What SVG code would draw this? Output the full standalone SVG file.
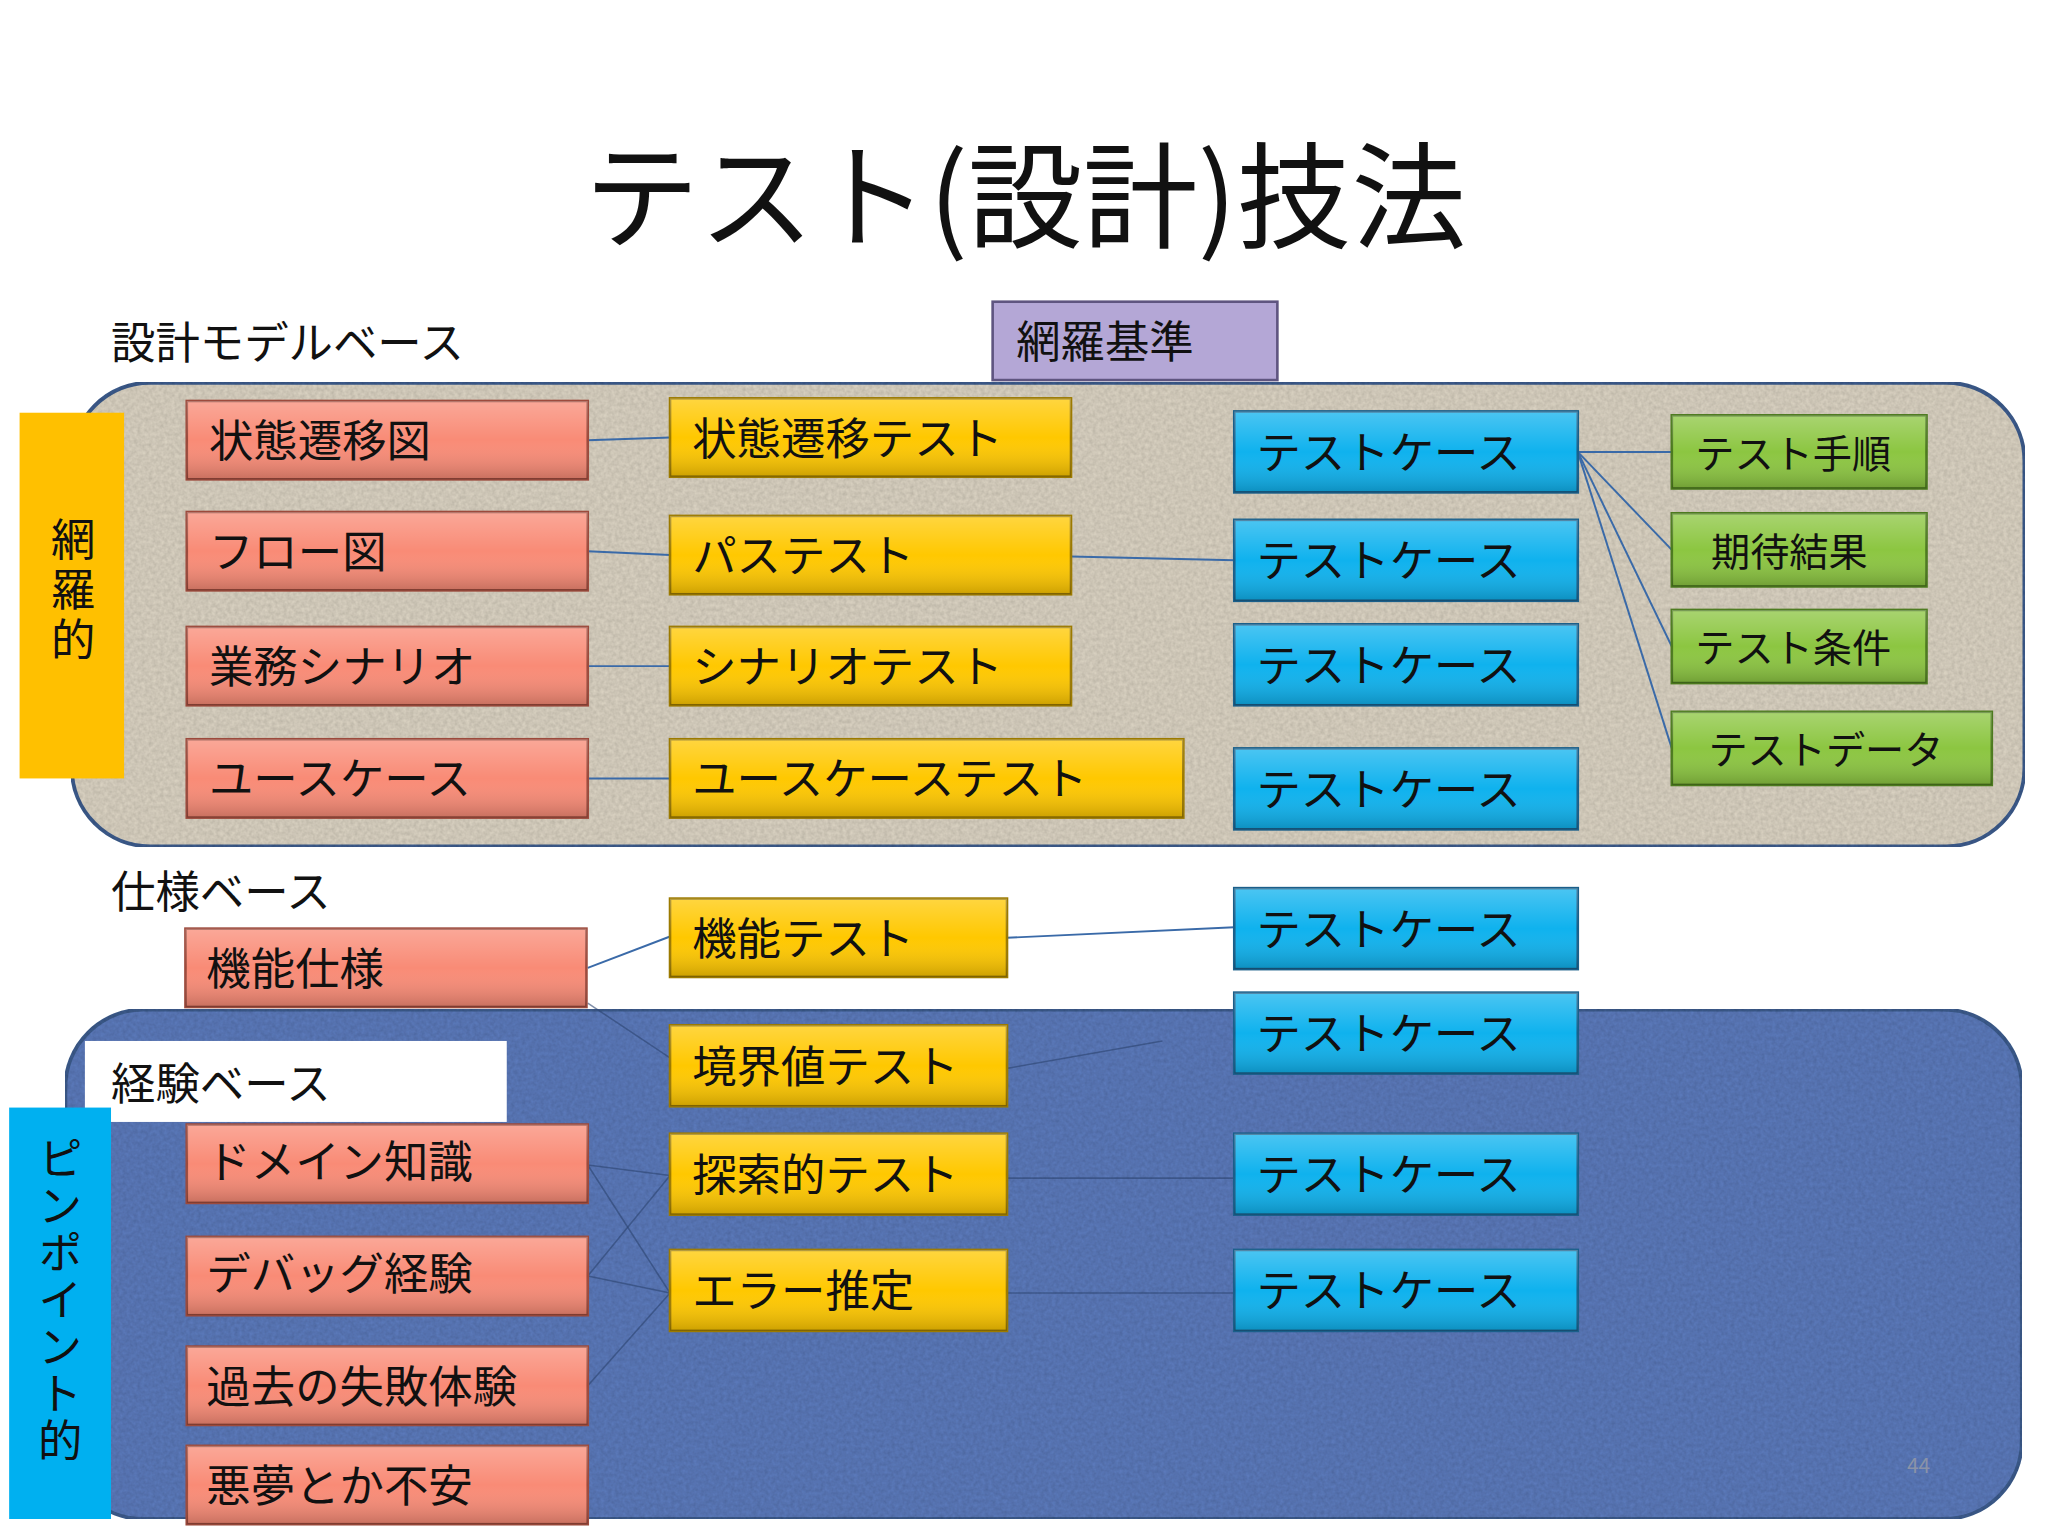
<svg xmlns="http://www.w3.org/2000/svg" width="2048" height="1536" viewBox="0 0 2048 1536">
<style>
text{font-family:"Noto Sans CJK JP","Liberation Sans",sans-serif;fill:#111}
.t{font-size:34px}
.r{fill:#f98b76;stroke:#9c4a3c;stroke-width:2}
.y{fill:#ffc800;stroke:#9c7a00;stroke-width:2}
.b{fill:#0fb2ee;stroke:#1a5f8a;stroke-width:2}
.g{fill:#8cc641;stroke:#4c7a1e;stroke-width:2}
.p{fill:#b4a7d6;stroke:#5f5580;stroke-width:2}
.c line{stroke:#3a6aa8;stroke-width:1.5}
.c .f{stroke:#2c4470;stroke-width:1.2;opacity:.6}
</style>
<defs>
<filter id="tex" x="0" y="0" width="1" height="1">
<feTurbulence type="fractalNoise" baseFrequency="0.35" numOctaves="2" seed="3" result="n"/>
<feColorMatrix in="n" type="matrix" values="0 0 0 0 0  0 0 0 0 0  0 0 0 0 0  0 0 0 0.35 -0.05" result="a"/>
<feComposite in="a" in2="SourceGraphic" operator="in" result="m"/>
<feMerge><feMergeNode in="SourceGraphic"/><feMergeNode in="m"/></feMerge>
</filter>
<linearGradient id="sh" x1="0" y1="0" x2="0" y2="1"><stop offset="0" stop-color="#fff" stop-opacity=".25"/><stop offset=".5" stop-color="#fff" stop-opacity="0"/><stop offset="1" stop-color="#000" stop-opacity=".2"/></linearGradient>
</defs>
<rect width="2048" height="1536" fill="#fff"/>
<g transform="scale(1.3061)">
<text x="785" y="183" font-size="88" text-anchor="middle">テスト(設計)技法</text>
<text x="85" y="275" font-size="34">設計モデルベース</text>
<g id="panel1"><rect x="55" y="293" width="1495" height="355" rx="60" fill="#d9d1c1" stroke="#3d5c8c" stroke-width="3" filter="url(#tex)"/></g>
<text x="85" y="695" font-size="34">仕様ベース</text>
<g id="panel2"><rect x="50" y="773" width="1498" height="390" rx="60" fill="#5b79ba" stroke="#3d5c8c" stroke-width="3" filter="url(#tex)"/></g>
<text x="1460" y="1128" font-size="16" style="fill:#8a93a8">44</text>
<g id="keiken"><rect x="65" y="797" width="323" height="62" fill="#fff"/><text x="85" y="842" font-size="34">経験ベース</text></g>
<g id="moura"><rect x="15" y="316" width="80" height="280" fill="#ffc000"/><text x="56" y="396" font-size="34" style="writing-mode:vertical-rl;letter-spacing:4px">網羅的</text></g>
<g id="pinpoint"><rect x="7" y="848" width="78" height="315" fill="#00b0f0"/><text x="46" y="870" font-size="34" style="writing-mode:vertical-rl;letter-spacing:2px">ピンポイント的</text></g>
<g class="c">
<line x1="450" y1="337" x2="513" y2="335"/><line x1="450" y1="422" x2="513" y2="425"/><line x1="450" y1="510" x2="513" y2="510"/><line x1="450" y1="596" x2="513" y2="596"/>
<line x1="820" y1="426" x2="945" y2="429"/>
<line x1="1208" y1="346" x2="1280" y2="346"/><line x1="1208" y1="346" x2="1280" y2="421"/><line x1="1208" y1="346" x2="1280" y2="495"/><line x1="1208" y1="346" x2="1280" y2="573"/>
<line x1="450" y1="741" x2="513" y2="717"/><line x1="771" y1="718" x2="945" y2="710"/>
<line class="f" x1="450" y1="768" x2="513" y2="810"/>
<line class="f" x1="771" y1="818" x2="890" y2="797"/><line class="f" x1="771" y1="902" x2="945" y2="902"/><line class="f" x1="771" y1="990" x2="945" y2="990"/>
<line class="f" x1="450" y1="892" x2="513" y2="990"/><line class="f" x1="450" y1="977" x2="513" y2="900"/><line class="f" x1="450" y1="1061" x2="513" y2="990"/><line class="f" x1="450" y1="892" x2="513" y2="900"/><line class="f" x1="450" y1="977" x2="513" y2="990"/>
</g>
<g id="moura-kijun"><rect class="p" x="760" y="231" width="218" height="60"/><text class="t" x="778" y="274">網羅基準</text></g>
<g id="r1"><rect class="r" x="143" y="307" width="307" height="60"/><rect x="143" y="307" width="307" height="60" fill="url(#sh)"/><text class="t" x="160" y="350">状態遷移図</text></g>
<g id="r2"><rect class="r" x="143" y="392" width="307" height="60"/><rect x="143" y="392" width="307" height="60" fill="url(#sh)"/><text class="t" x="160" y="435">フロー図</text></g>
<g id="r3"><rect class="r" x="143" y="480" width="307" height="60"/><rect x="143" y="480" width="307" height="60" fill="url(#sh)"/><text class="t" x="160" y="523">業務シナリオ</text></g>
<g id="r4"><rect class="r" x="143" y="566" width="307" height="60"/><rect x="143" y="566" width="307" height="60" fill="url(#sh)"/><text class="t" x="160" y="609">ユースケース</text></g>
<g id="y1"><rect class="y" x="513" y="305" width="307" height="60"/><rect x="513" y="305" width="307" height="60" fill="url(#sh)"/><text class="t" x="530" y="348">状態遷移テスト</text></g>
<g id="y2"><rect class="y" x="513" y="395" width="307" height="60"/><rect x="513" y="395" width="307" height="60" fill="url(#sh)"/><text class="t" x="530" y="438">パステスト</text></g>
<g id="y3"><rect class="y" x="513" y="480" width="307" height="60"/><rect x="513" y="480" width="307" height="60" fill="url(#sh)"/><text class="t" x="530" y="523">シナリオテスト</text></g>
<g id="y4"><rect class="y" x="513" y="566" width="393" height="60"/><rect x="513" y="566" width="393" height="60" fill="url(#sh)"/><text class="t" x="530" y="609">ユースケーステスト</text></g>
<g id="b1"><rect class="b" x="945" y="315" width="263" height="62"/><rect x="945" y="315" width="263" height="62" fill="url(#sh)"/><text class="t" x="962" y="359">テストケース</text></g>
<g id="b2"><rect class="b" x="945" y="398" width="263" height="62"/><rect x="945" y="398" width="263" height="62" fill="url(#sh)"/><text class="t" x="962" y="442">テストケース</text></g>
<g id="b3"><rect class="b" x="945" y="478" width="263" height="62"/><rect x="945" y="478" width="263" height="62" fill="url(#sh)"/><text class="t" x="962" y="522">テストケース</text></g>
<g id="b4"><rect class="b" x="945" y="573" width="263" height="62"/><rect x="945" y="573" width="263" height="62" fill="url(#sh)"/><text class="t" x="962" y="617">テストケース</text></g>
<g id="g1"><rect class="g" x="1280" y="318" width="195" height="56"/><rect x="1280" y="318" width="195" height="56" fill="url(#sh)"/><text x="1298" y="358" font-size="30">テスト手順</text></g>
<g id="g2"><rect class="g" x="1280" y="393" width="195" height="56"/><rect x="1280" y="393" width="195" height="56" fill="url(#sh)"/><text x="1310" y="433" font-size="30">期待結果</text></g>
<g id="g3"><rect class="g" x="1280" y="467" width="195" height="56"/><rect x="1280" y="467" width="195" height="56" fill="url(#sh)"/><text x="1298" y="507" font-size="30">テスト条件</text></g>
<g id="g4"><rect class="g" x="1280" y="545" width="245" height="56"/><rect x="1280" y="545" width="245" height="56" fill="url(#sh)"/><text x="1308" y="585" font-size="30">テストデータ</text></g>
<g id="r5"><rect class="r" x="142" y="711" width="307" height="60"/><rect x="142" y="711" width="307" height="60" fill="url(#sh)"/><text class="t" x="158" y="754">機能仕様</text></g>
<g id="y5"><rect class="y" x="513" y="688" width="258" height="60"/><rect x="513" y="688" width="258" height="60" fill="url(#sh)"/><text class="t" x="530" y="731">機能テスト</text></g>
<g id="b5"><rect class="b" x="945" y="680" width="263" height="62"/><rect x="945" y="680" width="263" height="62" fill="url(#sh)"/><text class="t" x="962" y="724">テストケース</text></g>
<g id="y6"><rect class="y" x="513" y="785" width="258" height="62"/><rect x="513" y="785" width="258" height="62" fill="url(#sh)"/><text class="t" x="530" y="829">境界値テスト</text></g>
<g id="y7"><rect class="y" x="513" y="868" width="258" height="62"/><rect x="513" y="868" width="258" height="62" fill="url(#sh)"/><text class="t" x="530" y="912">探索的テスト</text></g>
<g id="y8"><rect class="y" x="513" y="957" width="258" height="62"/><rect x="513" y="957" width="258" height="62" fill="url(#sh)"/><text class="t" x="530" y="1001">エラー推定</text></g>
<g id="b6"><rect class="b" x="945" y="760" width="263" height="62"/><rect x="945" y="760" width="263" height="62" fill="url(#sh)"/><text class="t" x="962" y="804">テストケース</text></g>
<g id="b7"><rect class="b" x="945" y="868" width="263" height="62"/><rect x="945" y="868" width="263" height="62" fill="url(#sh)"/><text class="t" x="962" y="912">テストケース</text></g>
<g id="b8"><rect class="b" x="945" y="957" width="263" height="62"/><rect x="945" y="957" width="263" height="62" fill="url(#sh)"/><text class="t" x="962" y="1001">テストケース</text></g>
<g id="r6"><rect class="r" x="143" y="861" width="307" height="60"/><rect x="143" y="861" width="307" height="60" fill="url(#sh)"/><text class="t" x="158" y="902">ドメイン知識</text></g>
<g id="r7"><rect class="r" x="143" y="947" width="307" height="60"/><rect x="143" y="947" width="307" height="60" fill="url(#sh)"/><text class="t" x="158" y="988">デバッグ経験</text></g>
<g id="r8"><rect class="r" x="143" y="1031" width="307" height="60"/><rect x="143" y="1031" width="307" height="60" fill="url(#sh)"/><text class="t" x="158" y="1074">過去の失敗体験</text></g>
<g id="r9"><rect class="r" x="143" y="1107" width="307" height="60"/><rect x="143" y="1107" width="307" height="60" fill="url(#sh)"/><text class="t" x="158" y="1150">悪夢とか不安</text></g>
</g>
</svg>
